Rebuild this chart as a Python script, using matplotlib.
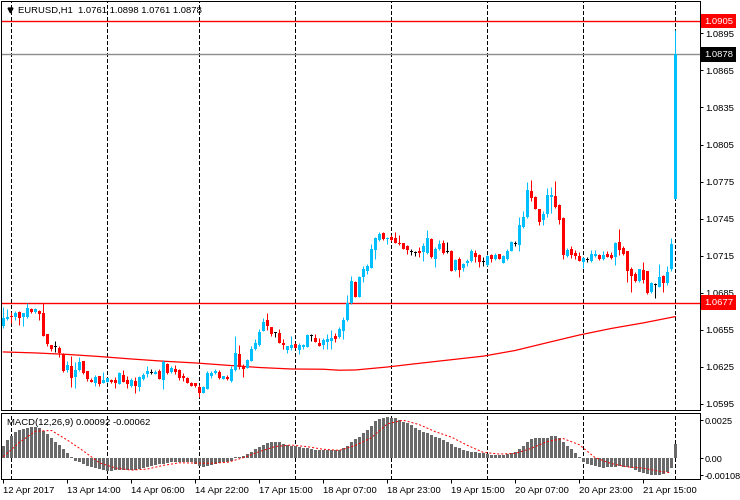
import numpy as np
import pandas as pd
import matplotlib
matplotlib.use("Agg")
import matplotlib.pyplot as plt

plt.rcParams['font.family'] = ['Liberation Sans', 'DejaVu Sans']
plt.rcParams['font.size'] = 6.8

# hourly bars, Good Friday feed stops at 22:00, last bar is Monday's gap open
times = pd.DatetimeIndex(
    list(pd.date_range('2017-04-12 22:00', '2017-04-14 22:00', freq='h'))
    + list(pd.date_range('2017-04-17 00:00', '2017-04-21 22:00', freq='h'))
    + [pd.Timestamp('2017-04-24 00:00')])

opens = [1.06581, 1.06635, 1.06662, 1.06657, 1.06695, 1.06652, 1.06657, 1.06716, 1.06692, 1.06703,
         1.06684, 1.06517, 1.06428, 1.06414, 1.06401, 1.06355, 1.06225, 1.06257, 1.06171, 1.06225,
         1.06298, 1.06217, 1.06147, 1.06122, 1.06176, 1.06122, 1.06131, 1.06144, 1.06144, 1.06114,
         1.06184, 1.06144, 1.06095, 1.06136, 1.06090, 1.06152, 1.06193, 1.06206, 1.06195, 1.06217,
         1.06144, 1.06274, 1.06212, 1.06233, 1.06225, 1.06176, 1.06163, 1.06122, 1.06117, 1.06085,
         1.06041, 1.06071, 1.06179, 1.06198, 1.06209, 1.06155, 1.06171, 1.06139, 1.06225, 1.06355,
         1.06257, 1.06244, 1.06300, 1.06391, 1.06426, 1.06543, 1.06629, 1.06570, 1.06529, 1.06521,
         1.06444, 1.06386, 1.06400, 1.06435, 1.06386, 1.06413, 1.06413, 1.06505, 1.06480, 1.06445,
         1.06426, 1.06448, 1.06459, 1.06502, 1.06494, 1.06543, 1.06629, 1.06764, 1.06934, 1.06818,
         1.06980, 1.07026, 1.07053, 1.07196, 1.07277, 1.07336, 1.07282, 1.07299, 1.07291, 1.07255,
         1.07250, 1.07228, 1.07183, 1.07174, 1.07191, 1.07183, 1.07169, 1.07285, 1.07123, 1.07204,
         1.07255, 1.07188, 1.07188, 1.07034, 1.07120, 1.07053, 1.07094, 1.07110, 1.07169, 1.07156,
         1.07102, 1.07075, 1.07156, 1.07120, 1.07161, 1.07094, 1.07120, 1.07191, 1.07250, 1.07237,
         1.07380, 1.07466, 1.07674, 1.07628, 1.07528, 1.07439, 1.07488, 1.07628, 1.07633, 1.07561,
         1.07453, 1.07147, 1.07201, 1.07169, 1.07147, 1.07102, 1.07120, 1.07110, 1.07147, 1.07156,
         1.07120, 1.07164, 1.07156, 1.07137, 1.07264, 1.07210, 1.07188, 1.07042, 1.07002, 1.06944,
         1.07035, 1.07025, 1.06859, 1.06913, 1.06899, 1.06985, 1.06926, 1.07044, 1.07610]
highs = [1.06738, 1.06716, 1.06697, 1.06706, 1.06700, 1.06689, 1.06765, 1.06725, 1.06725, 1.06711,
         1.06765, 1.06520, 1.06430, 1.06463, 1.06420, 1.06360, 1.06298, 1.06338, 1.06287, 1.06328,
         1.06300, 1.06220, 1.06158, 1.06182, 1.06180, 1.06209, 1.06163, 1.06155, 1.06171, 1.06206,
         1.06225, 1.06176, 1.06158, 1.06171, 1.06176, 1.06198, 1.06257, 1.06230, 1.06225, 1.06230,
         1.06306, 1.06280, 1.06257, 1.06265, 1.06230, 1.06198, 1.06171, 1.06131, 1.06120, 1.06104,
         1.06095, 1.06217, 1.06217, 1.06230, 1.06225, 1.06179, 1.06184, 1.06257, 1.06500, 1.06428,
         1.06274, 1.06314, 1.06418, 1.06472, 1.06553, 1.06643, 1.06683, 1.06575, 1.06529, 1.06553,
         1.06474, 1.06418, 1.06502, 1.06445, 1.06440, 1.06435, 1.06516, 1.06516, 1.06516, 1.06480,
         1.06480, 1.06513, 1.06548, 1.06521, 1.06575, 1.06656, 1.06832, 1.06985, 1.06945, 1.06985,
         1.07066, 1.07083, 1.07245, 1.07304, 1.07344, 1.07340, 1.07304, 1.07318, 1.07344, 1.07318,
         1.07255, 1.07237, 1.07204, 1.07191, 1.07223, 1.07250, 1.07358, 1.07290, 1.07223, 1.07277,
         1.07277, 1.07264, 1.07196, 1.07120, 1.07137, 1.07088, 1.07120, 1.07204, 1.07196, 1.07160,
         1.07137, 1.07156, 1.07160, 1.07169, 1.07165, 1.07156, 1.07201, 1.07270, 1.07269, 1.07466,
         1.07515, 1.07744, 1.07763, 1.07633, 1.07530, 1.07515, 1.07696, 1.07704, 1.07755, 1.07565,
         1.07466, 1.07210, 1.07228, 1.07196, 1.07183, 1.07142, 1.07142, 1.07196, 1.07196, 1.07164,
         1.07188, 1.07188, 1.07183, 1.07264, 1.07363, 1.07228, 1.07190, 1.07056, 1.07021, 1.07021,
         1.07102, 1.07030, 1.06934, 1.06926, 1.07080, 1.06990, 1.07066, 1.07291, 1.08980]
lows = [1.06562, 1.06626, 1.06603, 1.06630, 1.06590, 1.06581, 1.06644, 1.06684, 1.06684, 1.06630,
        1.06497, 1.06420, 1.06376, 1.06374, 1.06328, 1.06212, 1.06212, 1.06090, 1.06077, 1.06220,
        1.06193, 1.06136, 1.06128, 1.06095, 1.06095, 1.06117, 1.06128, 1.06122, 1.06082, 1.06110,
        1.06128, 1.06082, 1.06085, 1.06041, 1.06058, 1.06144, 1.06171, 1.06193, 1.06193, 1.06150,
        1.06071, 1.06193, 1.06203, 1.06193, 1.06144, 1.06139, 1.06120, 1.06095, 1.06090, 1.06009,
        1.06036, 1.06068, 1.06163, 1.06190, 1.06152, 1.06152, 1.06144, 1.06131, 1.06220, 1.06230,
        1.06171, 1.06238, 1.06300, 1.06386, 1.06420, 1.06537, 1.06548, 1.06499, 1.06494, 1.06440,
        1.06393, 1.06364, 1.06386, 1.06400, 1.06354, 1.06394, 1.06408, 1.06462, 1.06451, 1.06421,
        1.06391, 1.06394, 1.06394, 1.06448, 1.06480, 1.06472, 1.06620, 1.06759, 1.06813, 1.06815,
        1.06940, 1.07002, 1.07050, 1.07120, 1.07272, 1.07277, 1.07245, 1.07272, 1.07255, 1.07237,
        1.07204, 1.07164, 1.07156, 1.07147, 1.07142, 1.07110, 1.07165, 1.07129, 1.07061, 1.07196,
        1.07164, 1.07169, 1.07025, 1.07029, 1.06980, 1.07029, 1.07066, 1.07102, 1.07102, 1.07061,
        1.07069, 1.07070, 1.07102, 1.07115, 1.07120, 1.07088, 1.07115, 1.07185, 1.07228, 1.07191,
        1.07372, 1.07453, 1.07596, 1.07525, 1.07399, 1.07399, 1.07461, 1.07493, 1.07540, 1.07407,
        1.07120, 1.07137, 1.07129, 1.07120, 1.07110, 1.07048, 1.07102, 1.07102, 1.07142, 1.07115,
        1.07115, 1.07137, 1.07120, 1.07075, 1.07156, 1.07156, 1.06940, 1.06859, 1.06940, 1.06936,
        1.06926, 1.06840, 1.06850, 1.06804, 1.06894, 1.06859, 1.06913, 1.07025, 1.07610]
closes = [1.06643, 1.06657, 1.06652, 1.06689, 1.06644, 1.06684, 1.06727, 1.06698, 1.06719, 1.06681,
          1.06500, 1.06433, 1.06395, 1.06414, 1.06360, 1.06220, 1.06265, 1.06163, 1.06225, 1.06293,
          1.06203, 1.06155, 1.06131, 1.06166, 1.06112, 1.06147, 1.06158, 1.06131, 1.06122, 1.06201,
          1.06131, 1.06114, 1.06144, 1.06095, 1.06166, 1.06184, 1.06217, 1.06206, 1.06212, 1.06152,
          1.06293, 1.06203, 1.06244, 1.06212, 1.06163, 1.06158, 1.06122, 1.06098, 1.06098, 1.06036,
          1.06085, 1.06198, 1.06198, 1.06217, 1.06163, 1.06176, 1.06152, 1.06230, 1.06360, 1.06247,
          1.06230, 1.06306, 1.06391, 1.06445, 1.06532, 1.06613, 1.06580, 1.06516, 1.06529, 1.06444,
          1.06431, 1.06418, 1.06426, 1.06400, 1.06426, 1.06426, 1.06508, 1.06505, 1.06451, 1.06421,
          1.06467, 1.06475, 1.06486, 1.06475, 1.06553, 1.06629, 1.06764, 1.06945, 1.06818, 1.06975,
          1.07039, 1.07069, 1.07204, 1.07291, 1.07326, 1.07285, 1.07296, 1.07277, 1.07255, 1.07242,
          1.07204, 1.07196, 1.07183, 1.07174, 1.07169, 1.07228, 1.07291, 1.07142, 1.07204, 1.07245,
          1.07169, 1.07188, 1.07029, 1.07115, 1.07034, 1.07080, 1.07110, 1.07188, 1.07142, 1.07102,
          1.07102, 1.07147, 1.07123, 1.07156, 1.07125, 1.07147, 1.07188, 1.07264, 1.07250, 1.07399,
          1.07466, 1.07682, 1.07615, 1.07528, 1.07425, 1.07488, 1.07642, 1.07642, 1.07547, 1.07439,
          1.07156, 1.07196, 1.07156, 1.07147, 1.07110, 1.07129, 1.07120, 1.07164, 1.07164, 1.07120,
          1.07156, 1.07142, 1.07129, 1.07250, 1.07196, 1.07164, 1.07029, 1.06985, 1.06944, 1.07044,
          1.06953, 1.06850, 1.06926, 1.06913, 1.06975, 1.06931, 1.07021, 1.07245, 1.08780]

# moving average (red line) read at every 8th bar
ma_bars = [0, 8, 16, 24, 32, 40, 48, 56, 64, 72, 80, 84, 88, 92, 96, 104, 112, 120,
           128, 136, 144, 152, 160, 168]
ma_vals = [1.06371, 1.06363, 1.06351, 1.06334, 1.06314, 1.06296, 1.06282, 1.06263,
           1.06245, 1.06233, 1.06231, 1.06223, 1.06225, 1.06237, 1.06249, 1.06279,
           1.06308, 1.06337, 1.06383, 1.06446, 1.06508, 1.06561, 1.06606, 1.06657]

macd_hist = [0.00084, 0.00121, 0.00147, 0.00171, 0.00184, 0.00193, 0.00201, 0.00208, 0.00208, 0.00197,
             0.00180, 0.00158, 0.00132, 0.00110, 0.00088, 0.00062, 0.00034, 0.00012, -0.00016, -0.00025,
             -0.00036, -0.00047, -0.00056, -0.00064, -0.00071, -0.00077, -0.00080, -0.00080, -0.00077, -0.00073,
             -0.00073, -0.00075, -0.00075, -0.00073, -0.00069, -0.00062, -0.00056, -0.00049, -0.00042, -0.00038,
             -0.00034, -0.00028, -0.00023, -0.00023, -0.00021, -0.00021, -0.00023, -0.00025, -0.00034, -0.00047,
             -0.00056, -0.00049, -0.00042, -0.00036, -0.00032, -0.00025, -0.00021, -0.00016, 0.00012, 0.00012,
             0.00018, 0.00027, 0.00045, 0.00062, 0.00075, 0.00088, 0.00101, 0.00110, 0.00110, 0.00106,
             0.00093, 0.00088, 0.00084, 0.00080, 0.00075, 0.00071, 0.00067, 0.00062, 0.00058, 0.00054,
             0.00054, 0.00054, 0.00054, 0.00056, 0.00058, 0.00067, 0.00084, 0.00106, 0.00127, 0.00142,
             0.00165, 0.00186, 0.00214, 0.00245, 0.00258, 0.00267, 0.00271, 0.00267, 0.00263, 0.00252,
             0.00241, 0.00230, 0.00219, 0.00201, 0.00186, 0.00175, 0.00165, 0.00154, 0.00142, 0.00132,
             0.00119, 0.00106, 0.00093, 0.00077, 0.00067, 0.00056, 0.00049, 0.00045, 0.00043, 0.00038,
             0.00034, 0.00029, 0.00023, 0.00023, 0.00021, 0.00023, 0.00027, 0.00034, 0.00045, 0.00060,
             0.00080, 0.00110, 0.00127, 0.00132, 0.00132, 0.00132, 0.00136, 0.00145, 0.00145, 0.00132,
             0.00106, 0.00084, 0.00062, 0.00034, 0.00012, -0.00025, -0.00038, -0.00042, -0.00049, -0.00056,
             -0.00060, -0.00058, -0.00056, -0.00054, -0.00049, -0.00054, -0.00058, -0.00064, -0.00075, -0.00086,
             -0.00097, -0.00103, -0.00108, -0.00108, -0.00106, -0.00102, -0.00086, -0.00064, 0.00092]

sig_bars = [0, 4, 8, 12, 16, 20, 24, 28, 32, 36, 40, 44, 48, 52, 56, 60, 64, 68, 72, 76, 80, 84,
            88, 92, 96, 100, 104, 108, 112, 116, 120, 124, 128, 132, 136, 140, 144, 148, 152,
            156, 160, 164, 167]
sig_vals = [0.00012, 0.00105, 0.00178, 0.00183, 0.00120, 0.00049, -0.00028, -0.00062, -0.00076,
            -0.00069, -0.00045, -0.00028, -0.00030, -0.00031, -0.00025, 0.00005, 0.00045, 0.00078,
            0.00088, 0.00077, 0.00060, 0.00053, 0.00085, 0.00135, 0.00226, 0.00250, 0.00221, 0.00175,
            0.00140, 0.00086, 0.00040, 0.00029, 0.00033, 0.00066, 0.00111, 0.00130, 0.00090, 0.00005,
            -0.00033, -0.00055, -0.00063, -0.00084, -0.00094]

price_ticks = [1.0895, 1.0865, 1.0835, 1.0805, 1.0775, 1.0745, 1.0715, 1.0685, 1.0655, 1.0625, 1.0595]
level_hi = 1.0905
level_lo = 1.0677
bid = 1.0878
header = "EURUSD,H1  1.0761 1.0898 1.0761 1.0878"
macd_label = "MACD(12,26,9) 0.00092 -0.00062"

BLUE = '#00BFFF'
RED = '#FF0000'
px = 0.72  # one pixel in points at 100 dpi

o = np.array(opens); h = np.array(highs); l = np.array(lows); c = np.array(closes)
x = np.arange(len(o))
col = np.where(c > o, BLUE, np.where(c < o, RED, 'black'))

W, H = 740, 500
fig = plt.figure(figsize=(W / 100, H / 100), dpi=100)
ax = fig.add_axes([1 / W, 1 - 410 / H, 699 / W, 409 / H])
ax2 = fig.add_axes([1 / W, 1 - 479 / H, 699 / W, 66 / H], sharex=ax)

# candles
ax.vlines(x, l, h, colors=col, lw=px, zorder=3)
body = np.abs(c - o)
body = np.where(body < 0.00008, 0.00008, body)
ax.bar(x, body, bottom=np.minimum(o, c) - np.where(c == o, 0.00004, 0), width=0.75,
       color=col, lw=0, zorder=4)

ax.plot(ma_bars, ma_vals, color=RED, lw=0.9, zorder=2)
for val, lc in ((level_hi, RED), (level_lo, RED), (bid, '#8C8C8C')):
    ax.axhline(val, color=lc, lw=1.0, zorder=2)

day_idx = [i for i, t in enumerate(times) if t.hour == 0]
for a in (ax, ax2):
    for d in day_idx:
        a.axvline(d, color='black', lw=px, ls=(0, (3, 2.5)), zorder=1, antialiased=False)

ax.set_xlim(-0.6, 174.2)
ax.set_ylim(1.05901, 1.09212)
ax.yaxis.tick_right()
ax.set_yticks(price_ticks)
ax.set_yticklabels(['%.4f' % p for p in price_ticks])
ax.tick_params(axis='y', length=2.2, width=px, pad=1.5, labelsize=6.8)
ax.tick_params(axis='x', bottom=False, labelbottom=False)

tr = ax.get_yaxis_transform()
for val, fc in ((level_hi, RED), (bid, 'black'), (level_lo, RED)):
    ax.text(1.006, val, '%.4f' % val, transform=tr, ha='left', va='center', color='white',
            fontsize=6.8, zorder=10, clip_on=False,
            bbox=dict(boxstyle='square,pad=0.3', facecolor=fc, edgecolor='none'))

ax.plot([0.013], [0.977], marker='v', color='black', ms=3.5, transform=ax.transAxes, clip_on=False)
ax.text(0.024, 0.977, header, transform=ax.transAxes, ha='left', va='center', fontsize=6.8)

# MACD panel
ax2.bar(x, macd_hist, width=0.75, color='#6A6A6A', lw=0, zorder=2)
ax2.plot(sig_bars, sig_vals, color=RED, lw=px, ls=(0, (2, 2)), zorder=3)
ax2.set_ylim(-0.00134, 0.00297)
ax2.yaxis.tick_right()
ax2.set_yticks([0.0025, 0.0, -0.00108])
ax2.set_yticklabels(['0.0025', '0.00', '-0.00108'])
ax2.tick_params(axis='y', length=2.2, width=px, pad=1.0, labelsize=6.6)
ax2.text(0.008, 0.86, macd_label, transform=ax2.transAxes, ha='left', va='center', fontsize=6.8)

lab_idx = list(range(0, len(times), 16))
labels = [times[0].strftime('%d %b %Y')] + [times[i].strftime('%d %b %H:%M') for i in lab_idx[1:]]
ax2.set_xticks(lab_idx)
ax2.set_xticklabels(labels, ha='left')
ax2.tick_params(axis='x', length=3, width=px, pad=2, labelsize=6.8)

for a in (ax, ax2):
    for s in a.spines.values():
        s.set_linewidth(px)
        s.set_color('black')
        s.set_antialiased(False)

fig.savefig('out.png', dpi=100, facecolor='white')
